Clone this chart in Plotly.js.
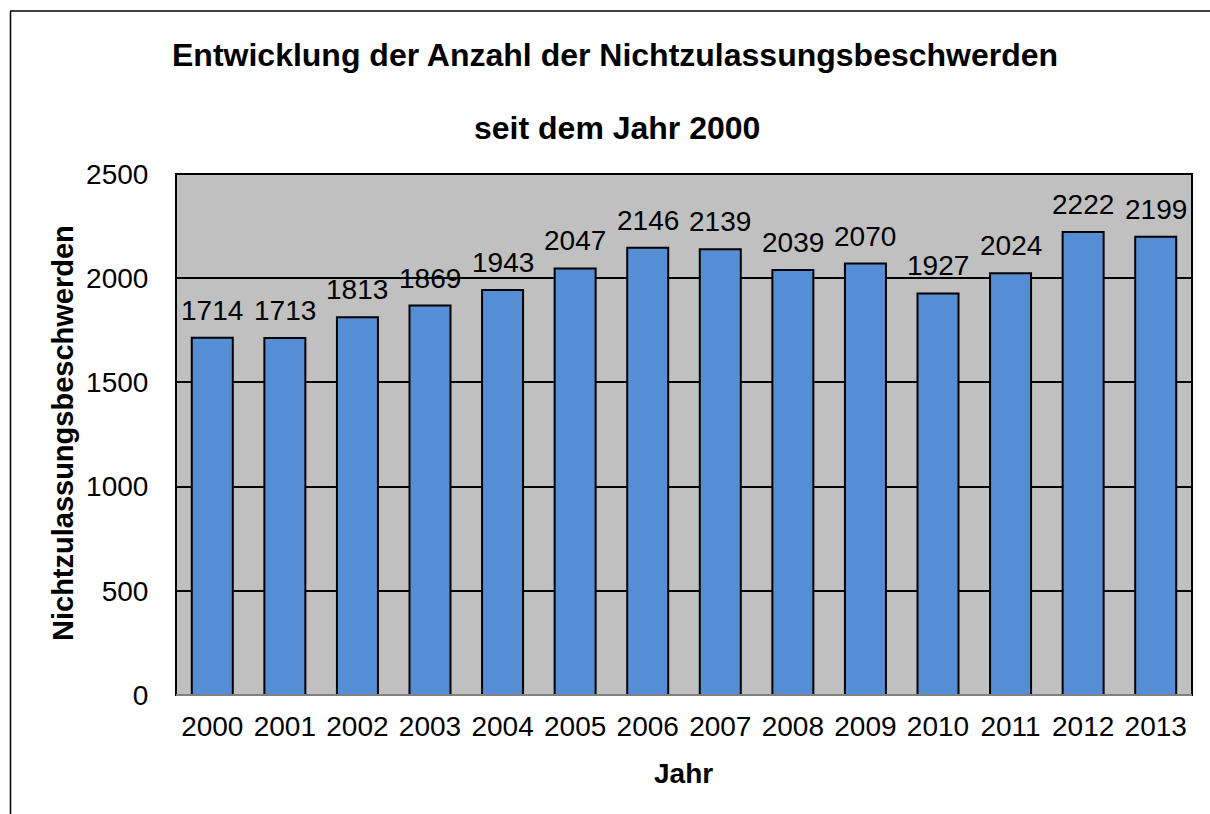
<!DOCTYPE html>
<html><head><meta charset="utf-8">
<script src="https://cdn.plot.ly/plotly-3.0.1.min.js"></script>
<style>body{margin:0;padding:0;background:#fff}</style>
</head><body>
<div id="chart" style="width:1210px;height:814px"></div>
<script>
const years = ["2000","2001","2002","2003","2004","2005","2006","2007","2008","2009","2010","2011","2012","2013"];
const values = [1714,1713,1813,1869,1943,2047,2146,2139,2039,2070,1927,2024,2222,2199];
const yTicks = [0,500,1000,1500,2000,2500];

const F = "Liberation Sans, Arial, sans-serif";
const L = 176, R = 1192, T = 174, B = 695;
const px = v => (v - L) / (R - L);
const py = v => (B - v) / (B - T);

const trace = {
  type: "bar", x: years, y: values,
  marker: {color: "#558ED5", line: {color: "#000000", width: 2}},
  hoverinfo: "none"
};
const labelAnn = years.map((yr, i) => ({
  x: i, y: values[i], xref: "x", yref: "y", text: String(values[i]),
  showarrow: false, yanchor: "bottom", xanchor: "center", yshift: 10,
  font: {family: F, size: 28, color: "#000"}
}));
const layout = {
  width: 1210, height: 814,
  margin: {l: L, r: 1210 - R, t: T, b: 814 - B, pad: 0},
  paper_bgcolor: "#ffffff", plot_bgcolor: "#C0C0C0",
  showlegend: false, bargap: 0.435,
  font: {family: F, color: "#000"},
  xaxis: {type: "category", range: [-0.5, years.length - 0.5], autorange: false, tickfont: {family: F, size: 28}, ticks: "outside", ticklen: 6, tickcolor: "rgba(0,0,0,0)", showline: false},
  yaxis: {range: [0, 2500], autorange: false, tickvals: yTicks, ticktext: yTicks.map(String), tickfont: {family: F, size: 28},
    showgrid: true, gridcolor: "#000", gridwidth: 2, zeroline: false, ticks: "outside", ticklen: 21, tickcolor: "rgba(0,0,0,0)",
    showline: false},
  annotations: [
    {xref: "paper", yref: "paper", x: px(615), y: py(55), text: "<b>Entwicklung der Anzahl der Nichtzulassungsbeschwerden</b>", showarrow: false, font: {family: F, size: 32}, xanchor: "center", yanchor: "middle"},
    {xref: "paper", yref: "paper", x: px(617), y: py(128), text: "<b>seit dem Jahr 2000</b>", showarrow: false, font: {family: F, size: 32}, xanchor: "center", yanchor: "middle"},
    {xref: "paper", yref: "paper", x: px(683), y: py(773), text: "<b>Jahr</b>", showarrow: false, font: {family: F, size: 28}, xanchor: "center", yanchor: "middle"},
    {xref: "paper", yref: "paper", x: px(63), y: py(433), text: "<b>Nichtzulassungsbeschwerden</b>", showarrow: false, textangle: -90, font: {family: F, size: 29}, xanchor: "center", yanchor: "middle"}
  ].concat(labelAnn),
  shapes: [
    {type: "rect", xref: "paper", yref: "paper", x0: 0, x1: 1, y0: 0, y1: 1, line: {color: "#000", width: 2}, fillcolor: "rgba(0,0,0,0)", layer: "above"},
    {type: "line", xref: "paper", yref: "paper", x0: 0, x1: 1, y0: 0, y1: 0, line: {color: "#808080", width: 2}, layer: "above"},
    {type: "line", xref: "paper", yref: "paper", x0: px(10), x1: px(1212), y0: py(11), y1: py(11), line: {color: "#000", width: 1.5}},
    {type: "line", xref: "paper", yref: "paper", x0: px(10.5), x1: px(10.5), y0: py(11), y1: py(820), line: {color: "#000", width: 1.5}}
  ]
};
Plotly.newPlot("chart", [trace], layout, {displayModeBar: false, staticPlot: true});
</script>
</body></html>
